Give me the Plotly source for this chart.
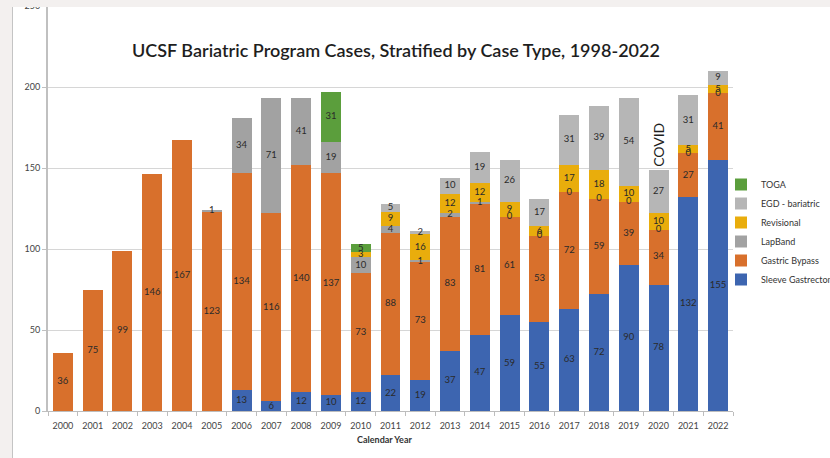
import plotly.graph_objects as go

years = [str(y) for y in range(2000, 2023)]
sleeve = [None]*6 + [13, 6, 12, 10, 12, 22, 19, 37, 47, 59, 55, 63, 72, 90, 78, 132, 155]
bypass = [36, 75, 99, 146, 167, 123, 134, 116, 140, 137, 73, 88, 73, 83, 81, 61, 53, 72, 59, 39, 34, 27, 41]
lapband = [None]*5 + [1, 34, 71, 41, 19, 10, 4, 1, 2, 1, 0, 0, 0, 0, 0, 0, 0, 0]
revisional = [None]*10 + [3, 9, 16, 12, 12, 9, 6, 17, 18, 10, 10, 5, 5]
egd = [None]*11 + [5, 2, 10, 19, 26, 17, 31, 39, 54, 27, 31, 9]
toga = [None]*9 + [31, 5] + [None]*12
covid_year = "2020"
covid_y = 164

series = [
    ("Sleeve Gastrectomy", sleeve, "#3d65b0"),
    ("Gastric Bypass", bypass, "#d8702c"),
    ("LapBand", lapband, "#a2a2a2"),
    ("Revisional", revisional, "#e9ad0c"),
    ("EGD - bariatric", egd, "#b6b6b6"),
    ("TOGA", toga, "#5b9e3c"),
]

FONT = "Lato"
W, H = 830, 458
L, R, T, B = 48, 97, 6, 47
PW, PH = W - L - R, H - T - B

fig = go.Figure()
base = [0.0]*len(years)
label_traces = []
for name, vals, col in series:
    fig.add_trace(go.Bar(x=years, y=vals, name=name, marker_color=col,
                         marker_line_width=0, hoverinfo="x+y+name"))
    lx, ly, lt = [], [], []
    for i, v in enumerate(vals):
        if v is not None:
            lx.append(years[i]); ly.append(base[i] + v/2); lt.append(str(v))
            base[i] += v
    label_traces.append(go.Scatter(x=lx, y=ly, text=lt, mode="text", showlegend=False,
                                   hoverinfo="skip", cliponaxis=False,
                                   textfont=dict(family=FONT, size=9.5, color="#2a2a2a")))
for t in label_traces:
    fig.add_trace(t)

def px_x(p):
    return (p - L) / PW

def px_y(p):
    return (H - B - p) / PH

shapes = [
    dict(type="rect", xref="paper", yref="paper", x0=px_x(-2), x1=px_x(W+2), y0=px_y(7), y1=px_y(-2),
         fillcolor="#f3f0ef", line_width=0, layer="above"),
    dict(type="rect", xref="paper", yref="paper", x0=px_x(-2), x1=px_x(12), y0=px_y(H+2), y1=px_y(-2),
         fillcolor="#f3f0ef", line_width=0, layer="above"),
    dict(type="line", xref="paper", yref="paper", x0=px_x(12.5), x1=px_x(12.5), y0=px_y(H+2), y1=px_y(7),
         line=dict(color="#c4c4c4", width=1), layer="above"),
]

annotations = [
    dict(text="UCSF Bariatric Program Cases, Stratified by Case Type, 1998-2022",
         xref="paper", yref="paper", x=px_x(396), y=px_y(50), showarrow=False,
         font=dict(family=FONT, size=18, color="#1e1e1e", weight=600), xanchor="center", yanchor="middle"),
    dict(text="COVID", x=years.index(covid_year), y=covid_y, textangle=-90, showarrow=False,
         font=dict(family=FONT, size=14, color="#1e1e1e"), xanchor="center", yanchor="middle"),
    dict(text="Calendar Year", xref="paper", yref="paper", x=px_x(384), y=px_y(439), showarrow=False,
         font=dict(family=FONT, size=9, color="#333333", weight="bold"), xanchor="center", yanchor="middle"),
]

fig.update_layout(
    width=W, height=H,
    margin=dict(l=L, r=R, t=T, b=B, autoexpand=False),
    barmode="stack", bargap=0.33,
    paper_bgcolor="white", plot_bgcolor="white",
    font=dict(family=FONT, size=9, color="#444444"),
    shapes=shapes, annotations=annotations,
    legend=dict(traceorder="reversed", x=px_x(721), y=px_y(232), xanchor="left", yanchor="middle",
                font=dict(family=FONT, size=9, color="#333333"), bgcolor="rgba(0,0,0,0)",
                itemwidth=30, tracegroupgap=0),
    xaxis=dict(type="category", range=[-0.5, len(years) - 0.5], tickson="boundaries", ticks="outside",
               ticklen=4, tickcolor="#bdbdbd", tickangle=0, ticklabelstandoff=6,
               showline=True, linecolor="#bdbdbd", linewidth=1, showgrid=False,
               tickfont=dict(family=FONT, size=9, color="#444444")),
    yaxis=dict(range=[0, 250], dtick=50, showline=True, linecolor="#c0c0c0", linewidth=2,
               gridcolor="#d6d6d6", gridwidth=1, zeroline=False, ticks="outside", ticklen=4,
               tickcolor="#c0c0c0", tickfont=dict(family=FONT, size=9, color="#444444")),
)

fig.write_html("out.html", config={"displayModeBar": False},
               post_script="document.body.style.margin='0';")
